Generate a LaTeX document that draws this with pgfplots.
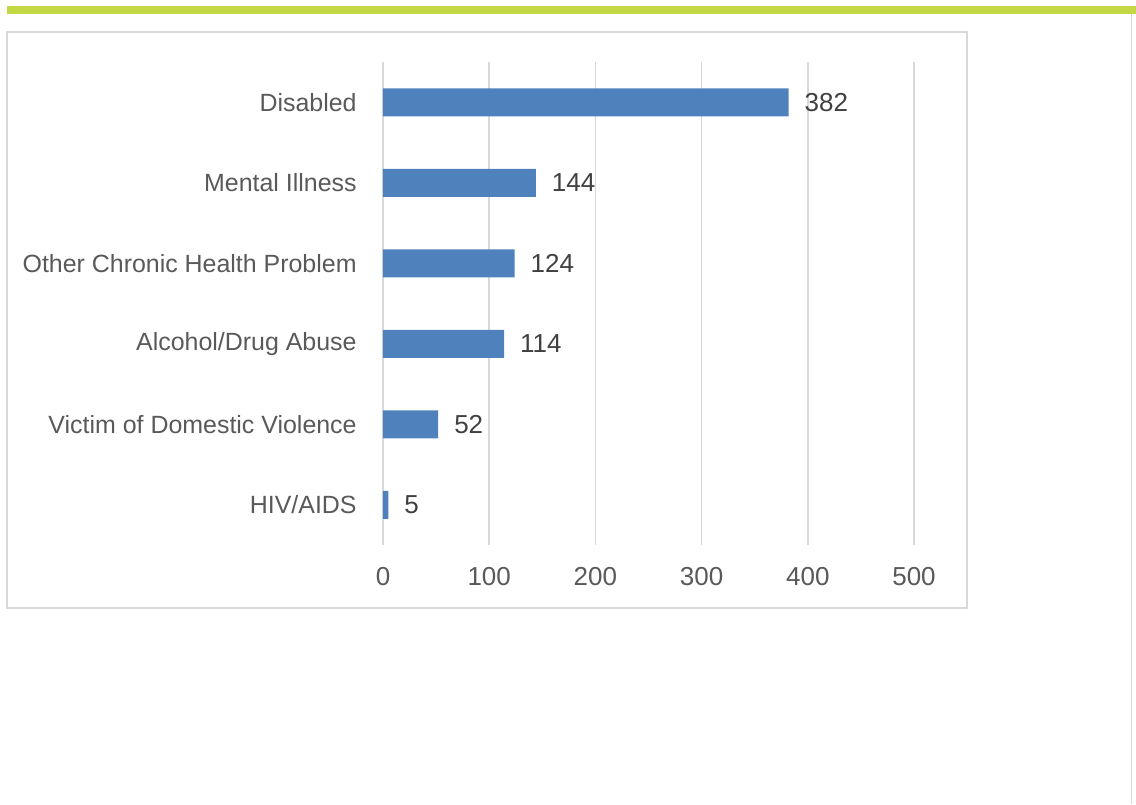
\documentclass[border=0pt]{standalone}
\usepackage{pgfplots}
\pgfplotsset{compat=1.18}
\usepackage{fontspec}
\setmainfont{Liberation Sans}
\definecolor{barblue}{HTML}{4F81BD}
\definecolor{topgreen}{HTML}{C4D845}
\definecolor{gridgray}{HTML}{D9D9D9}
\definecolor{labgray}{HTML}{595959}
\definecolor{valgray}{HTML}{404040}
\begin{document}
\begin{tikzpicture}
\begin{scope}[x=0.75pt,y=-0.75pt]
\useasboundingbox (0,0) rectangle (1136,804);
\fill[topgreen] (7,6) rectangle (1136,14);
\draw[gridgray, line width=1pt] (7,32) rectangle (967,608);
\draw[gridgray, line width=0.75pt] (1131,14) -- (1131,804);
\end{scope}
\begin{axis}[
  at={(287.25pt,-408.75pt)}, anchor=south west,
  scale only axis, width=398.25pt, height=362.25pt,
  xbar, bar width=21pt,
  xmin=0, xmax=500, ymin=-0.5, ymax=5.5,
  xtick={0,100,...,500},
  ytick={0,...,5},
  yticklabels={HIV/AIDS,Victim of Domestic Violence,Alcohol/Drug Abuse,Other Chronic Health Problem,Mental Illness,Disabled},
  xmajorgrids, grid style={gridgray, line width=1.2pt},
  axis line style={draw=none},
  tick style={draw=none},
  /pgf/number format/assume math mode=true,
  yticklabel style={font=\fontsize{18.7}{22}\selectfont, text=labgray, xshift=-12pt},
  xticklabel style={font=\fontsize{19.5}{23}\selectfont, text=labgray, yshift=-13.5pt},
  nodes near coords,
  every node near coord/.append style={font=\fontsize{19.5}{23}\selectfont, text=valgray, anchor=west, xshift=8.5pt},
]
\addplot[fill=barblue, draw=none] coordinates {
(5,0) (52,1) (114,2) (124,3) (144,4) (382,5)
};
\end{axis}
\end{tikzpicture}
\end{document}
